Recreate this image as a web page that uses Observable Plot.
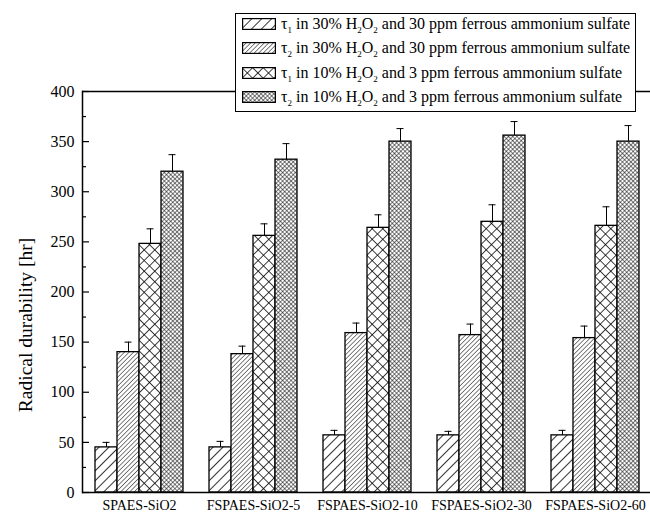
<!DOCTYPE html>
<html><head><meta charset="utf-8">
<script src="https://cdn.jsdelivr.net/npm/d3@7"></script>
<script src="https://cdn.jsdelivr.net/npm/@observablehq/plot@0.6"></script>
<style>
body{margin:0;background:#fff;}
#wrap{position:relative;width:650px;height:515px;font-family:"Liberation Serif",serif;color:#000;overflow:hidden;}
#legend{position:absolute;left:235px;top:13px;width:401px;height:99px;border:1.2px solid #000;background:#fff;box-sizing:border-box;}
.row{position:absolute;left:6px;height:14px;display:flex;align-items:center;font-size:16px;white-space:nowrap;line-height:14px;}
.row svg{margin-right:5px;flex:none}
.row sub{font-size:9px;vertical-align:-4px;line-height:0;}
#ytitle{position:absolute;left:26px;top:325px;transform:translate(-50%,-50%) rotate(-90deg);font-size:19.5px;white-space:nowrap;}
</style>
</head><body>
<svg width="0" height="0" style="position:absolute">
  <defs>
    <pattern id="p1" patternUnits="userSpaceOnUse" width="7" height="7" patternTransform="rotate(45)">
      <rect width="7" height="7" fill="#fff"/><line x1="0" y1="0" x2="0" y2="7" stroke="#000" stroke-width="1.6"/>
    </pattern>
    <pattern id="p2" patternUnits="userSpaceOnUse" width="3.2" height="3.2" patternTransform="rotate(45)">
      <rect width="3.2" height="3.2" fill="#fff"/><line x1="0" y1="0" x2="0" y2="3.2" stroke="#000" stroke-width="1"/>
    </pattern>
    <pattern id="p3" patternUnits="userSpaceOnUse" width="7.5" height="7.5" patternTransform="rotate(45)">
      <rect width="7.5" height="7.5" fill="#fff"/><line x1="0" y1="0" x2="0" y2="7.5" stroke="#000" stroke-width="1.5"/><line x1="0" y1="0" x2="7.5" y2="0" stroke="#000" stroke-width="1.5"/>
    </pattern>
    <pattern id="p4" patternUnits="userSpaceOnUse" width="3" height="3" patternTransform="rotate(45)">
      <rect width="3" height="3" fill="#fff"/><line x1="0" y1="0" x2="0" y2="3" stroke="#000" stroke-width="1"/><line x1="0" y1="0" x2="3" y2="0" stroke="#000" stroke-width="1"/>
    </pattern>
  </defs>
</svg>
<div id="wrap">
  <div id="chart"></div>
  <div id="ytitle">Radical durability [hr]</div>
  <div id="legend"></div>
</div>
<script>
const groups = ["SPAES-SiO2", "FSPAES-SiO2-5", "FSPAES-SiO2-10", "FSPAES-SiO2-30", "FSPAES-SiO2-60"];
const seriesKeys = ["t1_30", "t2_30", "t1_10", "t2_10"];
const seriesLabels = [
  "τ<sub>1</sub> in 30% H<sub>2</sub>O<sub>2</sub> and 30 ppm ferrous ammonium sulfate",
  "τ<sub>2</sub> in 30% H<sub>2</sub>O<sub>2</sub> and 30 ppm ferrous ammonium sulfate",
  "τ<sub>1</sub> in 10% H<sub>2</sub>O<sub>2</sub> and 3 ppm ferrous ammonium sulfate",
  "τ<sub>2</sub> in 10% H<sub>2</sub>O<sub>2</sub> and 3 ppm ferrous ammonium sulfate"
];
const patterns = ["url(#p1)", "url(#p2)", "url(#p3)", "url(#p4)"];

const t1_30 = [45, 45, 57, 57, 57];
const t1_30_top = [50, 51, 62, 61, 62];
const t2_30 = [140, 138, 159, 157, 154];
const t2_30_top = [150, 146, 169, 168, 166];
const t1_10 = [248, 256, 264, 270, 266];
const t1_10_top = [263, 268, 277, 287, 285];
const t2_10 = [320, 332, 350, 356, 350];
const t2_10_top = [337, 348, 363, 370, 366];

const yTicks = [0, 50, 100, 150, 200, 250, 300, 350, 400];
const yMinorTicks = [25, 75, 125, 175, 225, 275, 325, 375];

const values = [t1_30, t2_30, t1_10, t2_10];
const tops = [t1_30_top, t2_30_top, t1_10_top, t2_10_top];
const data = [];
groups.forEach((g, i) => seriesKeys.forEach((s, j) => data.push({group: g, series: s, value: values[j][i], top: tops[j][i]})));

const serif = "Liberation Serif";
const chart = Plot.plot({
  width: 650, height: 515,
  marginTop: 91, marginBottom: 23, marginLeft: 81, marginRight: 0,
  style: {background: "transparent", color: "#000", overflow: "visible"},
  fx: {domain: groups, range: [81, 653], padding: 0, label: null, axis: null},
  x: {domain: seriesKeys, paddingInner: 0, paddingOuter: 0.48, axis: null},
  y: {domain: [0, 400], axis: null},
  color: {domain: seriesKeys, range: patterns},
  marks: [
    Plot.barY(data, {fx: "group", x: "series", y: "value", fill: "series", stroke: "#000", strokeWidth: 1.3}),
    Plot.ruleX(data, {fx: "group", x: "series", y1: "value", y2: "top", stroke: "#000", strokeWidth: 1}),
    Plot.tickY(data, {fx: "group", x: "series", y: "top", insetLeft: 7.5, insetRight: 7.5, stroke: "#000", strokeWidth: 1}),
    Plot.ruleY([0, 400], {stroke: "#000", strokeWidth: 1.5}),
    Plot.frame({anchor: "left", facetAnchor: "left", stroke: "#000", strokeWidth: 1.5}),
    Plot.text(groups, {fx: (d) => d, text: (d) => d, frameAnchor: "bottom", lineAnchor: "top", dy: 8, fontSize: 14, fontFamily: serif, fill: "#000"}),
    Plot.axisY({ticks: yTicks, anchor: "left", tickSize: -7, tickPadding: 15, label: null, fontSize: 16, fontFamily: serif, fill: "#000", stroke: "#000", strokeWidth: 1.2}),
    Plot.axisY({ticks: yMinorTicks, anchor: "left", tickSize: -4, text: null, label: null, stroke: "#000", strokeWidth: 1.2})
  ]
});
document.getElementById("chart").appendChild(chart);

const legend = document.getElementById("legend");
seriesLabels.forEach((lab, j) => {
  const row = document.createElement("div");
  row.className = "row";
  row.style.top = (3 + j * 24.3) + "px";
  row.innerHTML = `<svg width="34" height="12"><rect x="0.6" y="0.6" width="32.8" height="10.8" fill="${patterns[j]}" stroke="#000" stroke-width="1.2"/></svg><span>${lab}</span>`;
  legend.appendChild(row);
});
</script>
</body></html>
